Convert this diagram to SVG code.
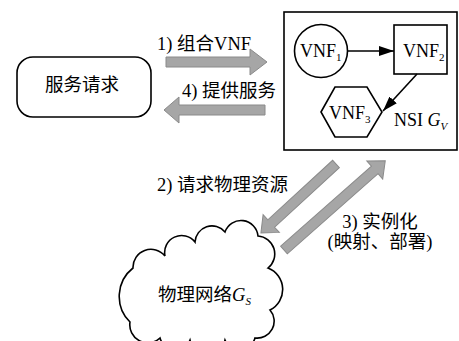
<svg xmlns="http://www.w3.org/2000/svg" width="459" height="341" viewBox="0 0 459 341">
<style>
.bg{fill:#ffffff}
.node{fill:#ffffff;stroke:#000000;stroke-width:1.6}
.gray{fill:#a6a6a6;stroke:#8a8a8a;stroke-width:1}
.link{stroke:#000000;stroke-width:1.6;fill:none}
.t{font-family:"Liberation Serif","Noto Sans CJK SC",serif;font-size:18.5px;fill:#000000}
.v{font-family:"Liberation Serif",serif;font-size:18px;fill:#000000}
.sub{font-size:11px}
.it{font-style:italic}
</style>
<defs>
<marker id="ah" viewBox="0 0 15 10" refX="15" refY="5" markerWidth="15" markerHeight="10" orient="auto" markerUnits="userSpaceOnUse">
<path d="M0,0 L15,5 L0,10 Z" fill="#000000"/>
</marker>
</defs>
<rect class="bg" x="0" y="0" width="459" height="341"/>

<g id="service-request">
<rect class="node" x="17" y="57" width="134" height="60" rx="16" ry="16"/>
<text class="t" x="82" y="90.5" text-anchor="middle">服务请求</text>
</g>

<g id="nsi">
<rect class="node" x="284" y="12" width="173" height="138"/>
<text class="v" x="394" y="126">NSI <tspan class="it">G</tspan><tspan class="sub it" dy="4">V</tspan></text>
</g>

<g id="vnf1">
<circle class="node" cx="321" cy="51" r="26.5"/>
<text class="v" x="300" y="57">VNF<tspan class="sub" dy="4">1</tspan></text>
</g>

<g id="vnf2">
<rect class="node" x="394" y="25" width="53" height="49"/>
<text class="v" x="403" y="57">VNF<tspan class="sub" dy="4">2</tspan></text>
</g>

<g id="vnf3">
<polygon class="node" points="321,112 335,87 367,87 382,112 367,137 335,137"/>
<text class="v" x="329" y="119">VNF<tspan class="sub" dy="4">3</tspan></text>
</g>

<g id="physical-network">
<path class="node" d="M130,322 A36,36 0 0 1 133,268 A18,18 0 0 1 165,256 A17,17 0 0 1 195,242 A17,17 0 0 1 225,232 A17,17 0 0 1 258,236 A18,18 0 0 1 268,268 A23,23 0 0 1 270,310 A17,17 0 0 1 255,338 A16,16 0 0 1 225,340 A18,18 0 0 1 190,340 A16,16 0 0 1 160,338 A18,18 0 0 1 130,322 Z"/>
<text class="t" x="158" y="300.5">物理网络<tspan class="it">G</tspan><tspan class="sub it" dy="4">S</tspan></text>
</g>

<g id="connectors">
<path class="gray" d="M166,57 H250 V49 L267,62 L250,75 V67 H166 Z"/>
<path class="gray" d="M265,105 H179 V97 L164,110 L179,123 V115 H265 Z"/>
<polygon class="gray" transform="translate(336,164) rotate(137.4)" points="0,-5 88,-5 88,-12 102,0 88,12 88,5 0,5"/>
<polygon class="gray" transform="translate(284,250) rotate(-41.4)" points="0,-5 121,-5 121,-12 135,0 121,12 121,5 0,5"/>
<line class="link" x1="348" y1="51" x2="394" y2="51" marker-end="url(#ah)"/>
<line class="link" x1="417" y1="74" x2="383" y2="111" marker-end="url(#ah)"/>
</g>

<g id="labels">
<text class="t" x="157" y="50">1) 组合VNF</text>
<text class="t" x="182" y="97">4) 提供服务</text>
<text class="t" x="157" y="190.5">2) 请求物理资源</text>
<text class="t" x="380" y="228" text-anchor="middle">3) 实例化</text>
<text class="t" x="380" y="248" text-anchor="middle">(映射、部署)</text>
</g>
</svg>
